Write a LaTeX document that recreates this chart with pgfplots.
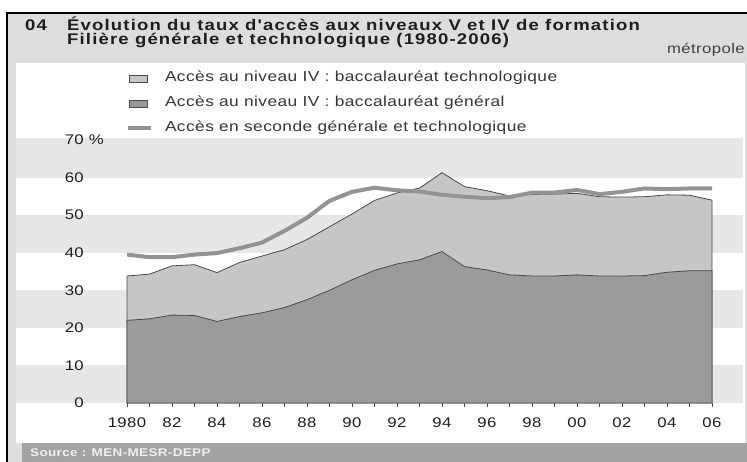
\documentclass[border=0pt]{standalone}
\usepackage{fontspec}
\setmainfont{Liberation Sans}[FakeStretch=1.2, LetterSpace=3]
\newfontfamily\titlefont{Liberation Sans}[FakeStretch=1.2, LetterSpace=7.5]
\usepackage{pgfplots}
\usepackage{pgfplotstable}
\pgfplotsset{compat=1.18}
\definecolor{outergray}{HTML}{DDDDDD}
\definecolor{bandgray}{HTML}{E7E7E7}
\definecolor{techgray}{HTML}{C6C6C6}
\definecolor{gengray}{HTML}{9B9B9B}
\definecolor{linegray}{HTML}{939393}
\definecolor{outline}{HTML}{4A4A4A}
\definecolor{sourcebar}{HTML}{A3A3A3}
\definecolor{txt}{HTML}{1E1E1E}

\pgfplotsset{
  boxlegend/.style={legend image code/.code={\draw[##1, line width=0.8bp] (0bp,-3.5bp) rectangle (18bp,3.5bp);}},
  linelegend/.style={legend image code/.code={\draw[##1] (-1.5bp,0bp) -- (21.5bp,0bp);}},
}

\pgfplotstableread{
year total gen seconde
1980 33.8 22.0 39.5
1981 34.3 22.4 38.8
1982 36.5 23.4 38.8
1983 36.8 23.3 39.5
1984 34.7 21.7 39.9
1985 37.4 23.0 41.2
1986 39.1 24.0 42.7
1987 40.8 25.4 45.8
1988 43.5 27.5 49.3
1989 46.9 30.0 53.8
1990 50.3 32.8 56.2
1991 53.9 35.3 57.3
1992 55.9 37.0 56.6
1993 57.2 38.1 56.3
1994 61.3 40.3 55.4
1995 57.6 36.3 54.9
1996 56.5 35.4 54.5
1997 55.1 34.1 54.8
1998 55.5 33.8 56.0
1999 55.6 33.8 56.0
2000 55.8 34.1 56.7
2001 54.9 33.8 55.6
2002 54.8 33.8 56.2
2003 54.9 33.9 57.1
2004 55.4 34.8 56.9
2005 55.3 35.2 57.1
2006 54.0 35.2 57.1
}\datatable

\begin{document}
\begin{tikzpicture}[x=1bp,y=1bp]
\useasboundingbox (0,0) rectangle (747,462);
\fill[white] (0,0) rectangle (747,462);
\fill[outergray] (8,0) rectangle (747,448);
\draw[black, line width=2.5bp] (7,0) -- (7,449) -- (747,449);
\fill[white] (16,19) rectangle (745,399);
% horizontal bands
\fill[bandgray] (16,59) rectangle (743,96.571);
\fill[bandgray] (16,134.143) rectangle (743,171.714);
\fill[bandgray] (16,209.286) rectangle (743,246.857);
\fill[bandgray] (16,284.429) rectangle (743,324);
% source bar
\fill[sourcebar] (22,0) rectangle (747,19);
\node[anchor=west, inner sep=0pt, text=white!94!black, font=\bfseries\fontsize{11.3}{13}\selectfont] at (30,9.5) {Source : MEN-MESR-DEPP};
% title
\node[anchor=base west, inner sep=0pt, text=txt, font=\titlefont\bfseries\fontsize{15.5}{18}\selectfont] at (25,431.5) {04};
\node[anchor=base west, inner sep=0pt, text=txt, font=\titlefont\bfseries\fontsize{15.5}{18}\selectfont] at (67,431.5) {Évolution du taux d'accès aux niveaux V et IV de formation};
\node[anchor=base west, inner sep=0pt, text=txt, font=\titlefont\bfseries\fontsize{15.5}{18}\selectfont] at (67,417.5) {Filière générale et technologique (1980-2006)};
\node[anchor=base east, inner sep=0pt, text=txt!85, font=\fontsize{14}{16}\selectfont] at (745,408) {métropole};

\begin{axis}[
  at={(127bp,59bp)}, anchor=south west,
  scale only axis, width=585bp, height=263bp,
  xmin=1980, xmax=2006, ymin=0, ymax=70,
  axis line style={draw=none},
  xtick={1980,1982,...,2006},
  minor xtick={1981,1983,...,2005},
  xticklabels={1980,82,84,86,88,90,92,94,96,98,00,02,04,06},
  ytick={0,10,...,70},
  yticklabels={0,10,20,30,40,50,60,70\rlap{ \%}},
  xtick pos=bottom, ytick pos=left,
  tick align=outside,
  major tick length=4bp, minor tick length=4bp,
  x tick style={draw=outline, line width=0.8bp},
  y tick style={draw=none},
  xticklabel style={font=\fontsize{14}{16}\selectfont, text=txt, inner sep=0pt, anchor=north, yshift=-11bp},
  yticklabel style={font=\fontsize{14}{16}\selectfont, text=txt, inner sep=0pt, anchor=east, xshift=-39bp},
  /pgf/number format/assume math mode=true,
  clip=false,
  legend style={at={(0,1.2586)}, anchor=north west, xshift=-1.5bp, draw=none, fill=none,
    inner sep=0pt, outer sep=0pt,
    font=\fontsize{14.5}{16}\selectfont, text=txt!90, row sep=12bp,
    /tikz/every odd column/.append style={column sep=12.5bp},
    nodes={inner sep=0pt, text height=10bp, text depth=3bp}},
  legend cell align=left,
]
\addplot[fill=techgray, draw=outline, line width=0.8bp, boxlegend]
  table[x=year, y=total] {\datatable} \closedcycle;
\addlegendentry{Accès au niveau IV : baccalauréat technologique}
\addplot[fill=gengray, draw=outline, line width=0.8bp, boxlegend]
  table[x=year, y=gen] {\datatable} \closedcycle;
\addlegendentry{Accès au niveau IV : baccalauréat général}
\addplot[draw=linegray, line width=4bp, line join=round, linelegend]
  table[x=year, y=seconde] {\datatable};
\addlegendentry{Accès en seconde générale et technologique}
\end{axis}
\end{tikzpicture}
\end{document}
